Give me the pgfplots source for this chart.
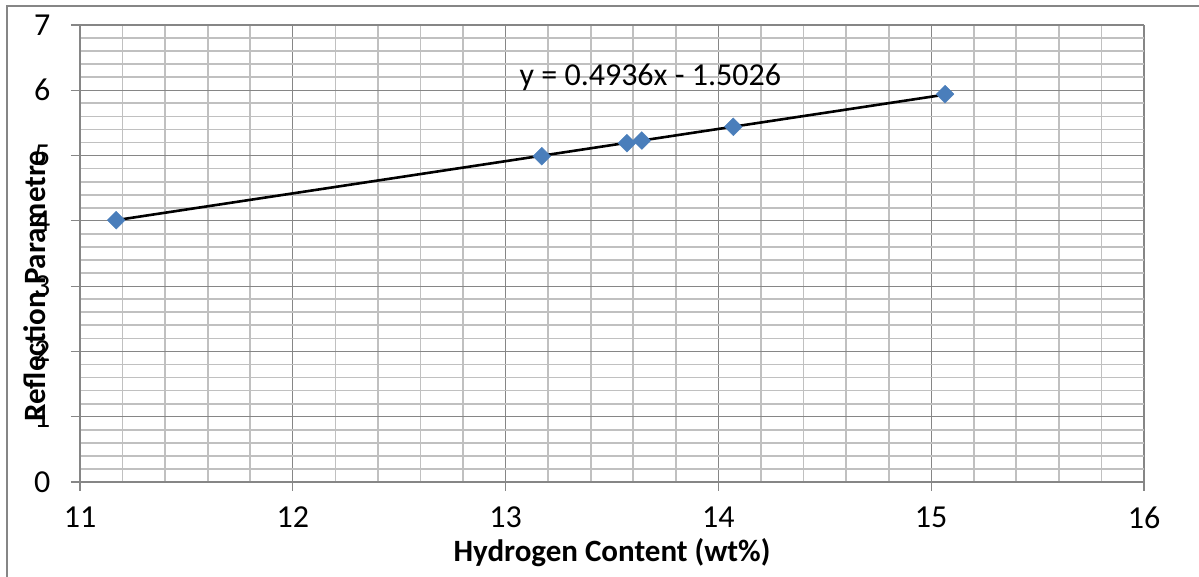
\documentclass[border=0pt]{standalone}
\usepackage{pgfplots}
\pgfplotsset{compat=1.18}
\usepackage{fontspec}
\setmainfont{Carlito}
\definecolor{majgrid}{RGB}{134,134,134}
\definecolor{mingrid}{RGB}{192,192,192}
\definecolor{markblue}{RGB}{74,126,187}
\begin{document}
\begin{tikzpicture}[x=1pt,y=1pt]
\useasboundingbox (0,0) rectangle (1199,577);
\draw[color=majgrid, line width=1.5pt] (7,-10) -- (7,571) -- (1210,571);
\begin{axis}[
  at={(80pt,95pt)}, anchor=origin,
  scale only axis, width=1064pt, height=457pt,
  xmin=11, xmax=16, ymin=0, ymax=7,
  xtick={11,...,16}, ytick={0,...,7},
  minor x tick num=4, minor y tick num=4,
  grid=both,
  major grid style={color=majgrid, line width=1.2pt},
  minor grid style={color=mingrid, line width=1.7pt},
  axis line style={color=majgrid, line width=1.2pt},
  tick style={color=majgrid, line width=1.2pt},
  major tick length=9pt, minor tick length=0pt,
  tick align=outside,
  xtick pos=bottom, ytick pos=left,
  axis x line*=bottom, axis y line*=left,
  separate axis lines,
  /pgf/number format/assume math mode=true,
  tick label style={font=\fontsize{32}{36}\selectfont, text=black},
  xticklabel style={yshift=-12pt},
  yticklabel style={xshift=-17pt},
  xlabel={Hydrogen Content (wt\%)},
  ylabel={Reflection Parametre},
  label style={font=\fontsize{31}{35}\selectfont\bfseries},
  xlabel style={at={(axis description cs:0.5,-0.155)}, anchor=center},
  ylabel style={at={(axis description cs:-0.0423,0.429)}, anchor=center},
  clip=false,
]
\addplot[color=black, line width=2.6pt] coordinates {(11.17,4.011) (15.07,5.936)};
\addplot[only marks, mark=square*, mark size=6.3pt, mark options={rotate=45, fill=markblue, draw=markblue}] coordinates {
(11.17,4.01) (13.17,4.99) (13.57,5.19) (13.64,5.23) (14.07,5.44) (15.065,5.94)
};
\node[font=\fontsize{32}{36}\selectfont, anchor=center] at (axis cs:13.68,6.2) {y = 0.4936x - 1.5026};
\end{axis}
\end{tikzpicture}
\end{document}
